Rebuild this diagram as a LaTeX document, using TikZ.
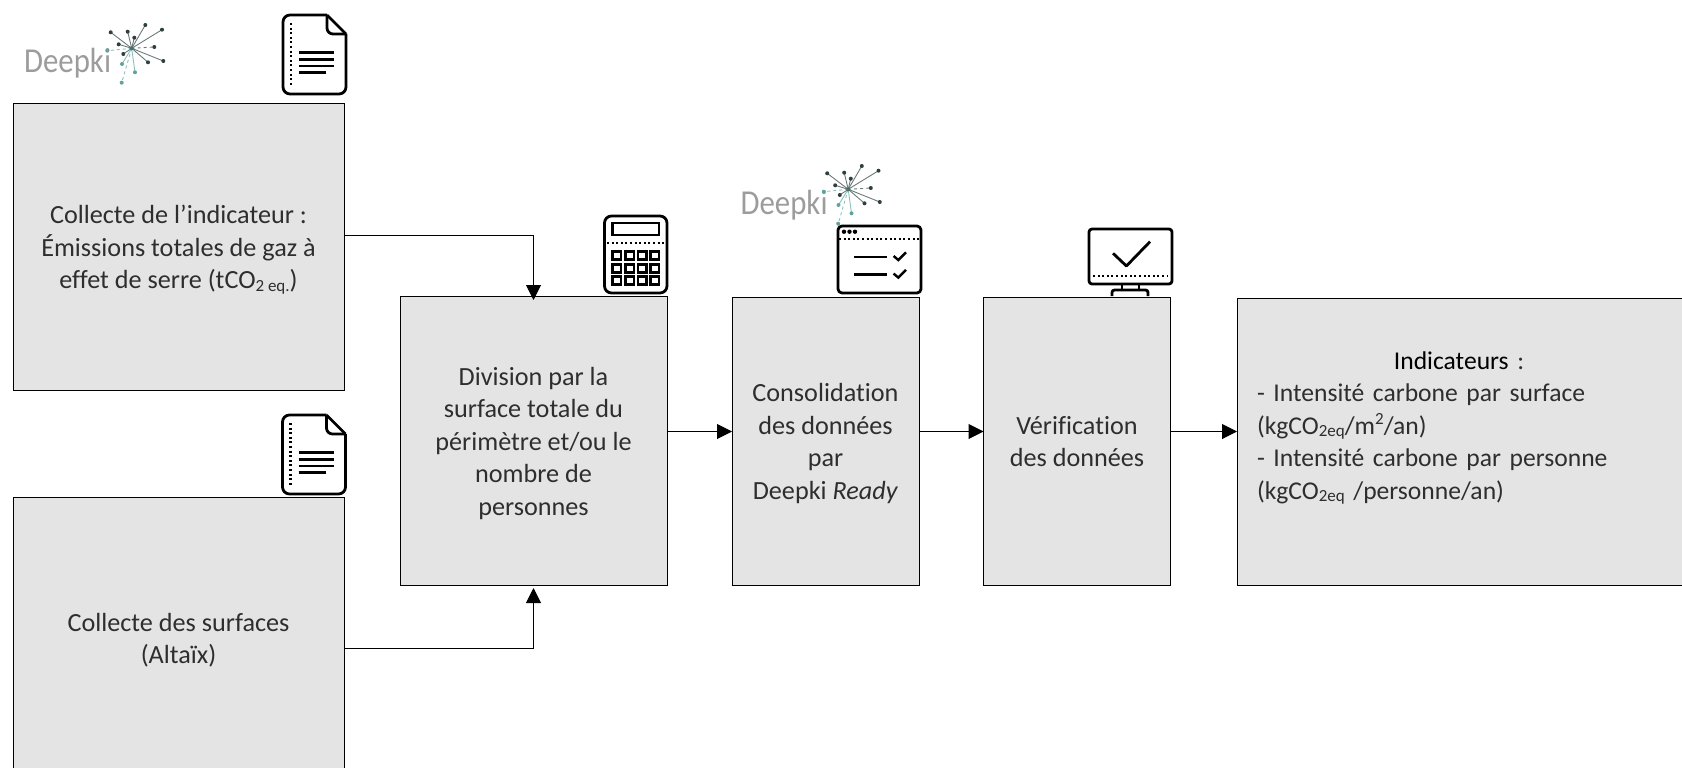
\documentclass[tikz,border=0pt]{standalone}
\usepackage{fontspec}
\setmainfont[Ligatures=NoCommon]{Carlito}
\usetikzlibrary{arrows.meta}
\definecolor{boxfill}{HTML}{E4E4E4}
\definecolor{txt}{HTML}{2E2E2E}
\definecolor{logogray}{HTML}{9C9C9C}
\definecolor{logoteal}{HTML}{5FA3A0}
\definecolor{logodark}{HTML}{2F3F3F}
\newcommand{\sbt}[1]{\raisebox{-2.5pt}{\fontsize{17}{17}\selectfont #1}}
\newcommand{\spt}[1]{\raisebox{9.5pt}{\fontsize{17}{17}\selectfont #1}}
\newcommand{\firstl}{\rule{0pt}{27pt}}
\newcommand{\lastl}{\rule[-8pt]{0pt}{8pt}}
\tikzset{
  procbox/.style={draw=black,line width=1pt,fill=boxfill,outer sep=0pt,inner sep=0pt,text=txt,align=center,
    font=\fontsize{26.2}{32.5}\selectfont},
  arr/.style={draw=black,line width=1pt,-{Triangle[length=15pt,width=15pt]}},
  icon/.style={draw=black,line width=2.8pt,line join=round},
  iconthin/.style={draw=black,line width=2.4pt},
  dots/.style={draw=black,line width=2.2pt,dash pattern=on 2pt off 2.6pt},
  logotext/.style={anchor=base west,inner sep=0pt,text=logogray,font=\fontsize{35}{35}\selectfont},
  ray/.style={draw=#1,line width=.9pt},
  dotp/.style={fill=#1,draw=none}
}
\newcommand{\deepkilogo}[3]{%
  \begin{scope}[shift={(#1,#2)}]
    \node[logotext] (#3) at (24,73) {\scalebox{.88}[1]{Deepki}};
    \foreach \px/\py/\c in {110.7/32.3/logodark,127.7/31.7/logodark,145.3/25/logodark,162/29.7/logodark,134.3/37.7/logodark,118.7/44.3/logodark,148/62.3/logodark,163.3/61/logodark,123.3/54/logodark,122/64/logoteal,135/72.3/logoteal}{
      \draw[ray=\c!70!white] (131.7,48.3) -- (\px,\py);
      \fill[dotp=\c] (\px,\py) circle (2pt);
    }
    \foreach \px/\py/\c in {154.3/47/logodark,107.3/50.7/logoteal,121.7/82.7/logoteal}{
      \draw[ray=\c!70!white,dashed] (131.7,48.3) -- (\px,\py);
      \fill[dotp=\c] (\px,\py) circle (2pt);
    }
    \fill[logoteal!70!black] (131.7,48.3) circle (2pt);
  \end{scope}}
\newcommand{\docicon}[2]{%
  \begin{scope}[shift={(#1,#2)}]
    \draw[icon,rounded corners=7pt] (327,15) -- (283,15) -- (283,94) -- (346,94) -- (346,34);
    \draw[icon] (327,15) -- (346,34);
    \draw[icon,rounded corners=6pt] (327,15) -- (327,34) -- (346,34);
    \draw[dots] (291,23) -- (291,87);
    \draw[iconthin] (299,52.5) -- (334,52.5) (299,59.5) -- (334,59.5) (299,66) -- (334,66) (299,72.5) -- (326,72.5);
  \end{scope}}
\begin{document}
\begin{tikzpicture}[x=1pt,y=-1pt]
\useasboundingbox (0,0) rectangle (1682,768);
\clip (0,0) rectangle (1682,768);
% boxes
\node[procbox,minimum width=331pt,minimum height=287pt] (A) at (178.5,246.5)
  {\firstl Collecte de l’indicateur :\\Émissions totales de gaz à\\effet de serre (tCO\sbt{2 eq.})\lastl};
\node[procbox,minimum width=331pt,minimum height=282pt] (B) at (178.5,638)
  {\firstl Collecte des surfaces\\(Altaïx)\lastl};
\node[procbox,minimum width=267pt,minimum height=289pt] (C) at (533.5,440.5)
  {\firstl Division par la\\surface totale du\\périmètre et/ou le\\nombre de\\personnes\lastl};
\node[procbox,minimum width=187pt,minimum height=288pt] (D) at (825.5,441)
  {\firstl Consolidation\\des données\\par\\Deepki \textit{Ready}\lastl};
\node[procbox,minimum width=187pt,minimum height=288pt] (E) at (1077,441)
  {\firstl Vérification\\des données\lastl};
\node[procbox,minimum width=453pt,minimum height=287pt,align=left,inner xsep=20pt,text width=413pt,
    font=\fontsize{25.6}{32.5}\selectfont] (F) at (1463.5,441.5)
  {\makebox[404pt][c]{\textcolor{black}{Indicateurs} :}\\
   - Intensité carbone par surface\\
   (kgCO\sbt{2eq}/m\spt{2}/an)\\
   - Intensité carbone par personne\\
   (kgCO\sbt{2eq} /personne/an)\\
   \mbox{}};
% connectors
\draw[arr] ([yshift=11.5pt]A.east) -| ([yshift=-4pt]C.north);
\draw[arr] ([yshift=-10pt]B.east) -| ([yshift=-3pt]C.south);
\draw[arr] ([yshift=9pt]C.east) -- ([yshift=9.5pt]D.west);
\draw[arr] ([yshift=9.5pt]D.east) -- ([yshift=9.5pt]E.west);
\draw[arr] ([yshift=9.5pt]E.east) -- ([yshift=10pt]F.west);
% logos
\deepkilogo{0}{0}{logoa}
\deepkilogo{716.5}{141}{logob}
% documents
\docicon{0}{0}
\docicon{-0.5}{400}
% calculator
\draw[icon,rounded corners=7pt] (604.5,216) rectangle (667,293);
\draw[iconthin] (612.4,222.7) rectangle (659,235);
\draw[dots] (607,242.7) -- (664,242.7);
\foreach \kx in {612.4,625.5,638,650.4}
  \foreach \ky in {251.7,264.3,276.7}
    \draw[iconthin,line width=2.6pt] (\kx,\ky) rectangle ++(8.4,8);
% window
\draw[icon,rounded corners=4pt] (838,226) rectangle (921,293);
\fill (844,231.7) circle (2.2pt) (849.5,231.7) circle (2.2pt) (855,231.7) circle (2.2pt);
\draw[dots] (839,239) -- (920,239);
\draw[iconthin] (854,256.7) -- (887,256.7) (854,274.3) -- (887,274.3);
\draw[iconthin] (893.6,256) -- (898.3,260) -- (906,252.3);
\draw[iconthin] (893.6,273.6) -- (898.3,277.6) -- (906,269.9);
% monitor
\draw[icon,rounded corners=3pt] (1089,229) rectangle (1172,284);
\draw[icon] (1113,253.3) -- (1126.4,266) -- (1150,241.7);
\draw[dots] (1093,275.7) -- (1168,275.7);
\draw[iconthin] (1122,284) -- (1122,290) (1139,284) -- (1139,290);
\draw[iconthin,line width=2.8pt,rounded corners=2.5pt] (1112,296) -- (1112,290) -- (1148,290) -- (1148,296);
\end{tikzpicture}
\end{document}
